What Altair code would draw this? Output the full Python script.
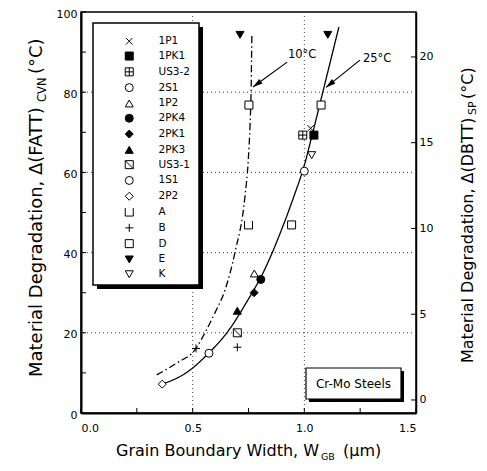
import altair as alt
import pandas as pd

FONT = "DejaVu Sans"

# ---- data ----
samples = ["1P1", "1PK1", "US3-2", "2S1", "1P2", "2PK4", "2PK1", "2PK3",
           "US3-1", "1S1", "2P2", "A", "B", "D", "E", "K"]
shape_paths = [
    "M-0.8,-0.8L0.8,0.8M-0.8,0.8L0.8,-0.8",          # 1P1  x
    "square",                                          # 1PK1
    "M-1,-1H1V1H-1ZM0,-1V1M-1,0H1",                    # US3-2
    "circle",                                          # 2S1
    "triangle-up",                                     # 1P2
    "circle",                                          # 2PK4
    "diamond",                                         # 2PK1
    "triangle-up",                                     # 2PK3
    "M-1,-1H1V1H-1ZM-1,-1L1,1",                        # US3-1
    "circle",                                          # 1S1
    "diamond",                                         # 2P2
    "M-1,-1V1H1V-1",                                   # A
    "M-1,0H1M0,-1V1",                                  # B
    "square",                                          # D
    "triangle-down",                                   # E
    "triangle-down",                                   # K
]
fill_colors = ["white", "black", "white", "white", "white", "black", "black", "black",
               "white", "white", "white", "white", "white", "white", "black", "white"]
stroke_colors = ["black"] * len(samples)

pt_sample = ["1P1", "1PK1", "US3-2", "2S1", "1P2", "2PK4", "2PK1", "2PK3", "US3-1",
             "1S1", "2P2", "A", "B", "B", "D", "D", "D", "E", "E", "K"]
pt_x = [1.028, 1.043, 0.993, 1.0, 0.776, 0.805, 0.775, 0.70, 0.70,
        0.573, 0.364, 0.75, 0.70, 0.515, 0.752, 1.075, 0.943, 0.712, 1.105, 1.033]
pt_y = [71.0, 69.3, 69.3, 60.3, 34.8, 33.3, 30.0, 25.5, 20.0,
        14.9, 7.2, 46.9, 16.4, 16.1, 76.8, 76.8, 46.9, 94.3, 94.3, 64.3]

curve25_x = [0.364, 0.47, 0.573, 0.66, 0.74, 0.82, 0.90, 0.95, 1.0, 1.035, 1.075, 1.115, 1.155]
curve25_y = [7.2, 10.0, 15.0, 20.5, 27.5, 35.5, 46.0, 53.5, 61.8, 69.3, 78.3, 87.3, 96.3]
curve10_x = [0.339, 0.43, 0.515, 0.555, 0.60, 0.645, 0.69, 0.734, 0.749, 0.757, 0.762, 0.765]
curve10_y = [9.5, 12.5, 16.1, 20.0, 25.0, 30.7, 40.2, 53.9, 63.1, 72.0, 81.4, 94.5]

arrow_id = ["10", "10", "25", "25"]
arrow_x = [0.923, 0.770, 1.249, 1.097]
arrow_y = [87.5, 81.3, 88.0, 81.2]
head_x = [0.770, 1.097]
head_y = [81.3, 81.2]
head_angle = [233.7, 231.3]
lab_text = ["10°C", "25°C"]
lab_x = [0.99, 1.326]
lab_y = [89.3, 88.3]

y_left_ticks = [0, 10, 20, 30, 40, 50, 60, 70, 80, 90, 100]
y_left_labels = [0, 20, 40, 60, 80, 100]
x_ticks = [0, 0.25, 0.5, 0.75, 1.0, 1.25, 1.5]
x_labels = [0, 0.5, 1.0, 1.5]
y_right_ticks = [0, 5, 10, 15, 20]
grid_y = [20, 40, 60, 80]
grid_x = [0.5, 1.0]

W, H = 335, 401
XS = alt.Scale(domain=[0, 1.5], nice=False, zero=False)
YS = alt.Scale(domain=[0, 100], nice=False, zero=False)
YR = alt.Scale(domain=[-0.76, 22.62], nice=False, zero=False)

LEFT_AXIS = alt.Axis(orient="left", values=y_left_labels, ticks=False, grid=False,
                     title=None, labelFont=FONT, labelFontSize=11, labelColor="black",
                     labelPadding=4, labelOffset=2, domainColor="black", domainWidth=2)
BOTTOM_AXIS = alt.Axis(orient="bottom", values=x_labels, format=".1f", ticks=False,
                       grid=False, title=None, labelFont=FONT, labelFontSize=11,
                       labelColor="black", labelPadding=9, domainColor="black",
                       domainWidth=2)
RIGHT_AXIS = alt.Axis(orient="right", values=y_right_ticks, ticks=False, grid=False,
                      title=None, labelFont=FONT, labelFontSize=11, labelColor="black",
                      labelPadding=3, domainColor="black", domainWidth=1.5)


def X(f):
    return alt.X(f, scale=XS, axis=BOTTOM_AXIS)


def Y(f):
    return alt.Y(f, scale=YS, axis=LEFT_AXIS)


pts = pd.DataFrame({"sample": pt_sample, "x": pt_x, "y": pt_y})
curves = pd.DataFrame({
    "c": ["25"] * len(curve25_x) + ["10"] * len(curve10_x),
    "x": curve25_x + curve10_x,
    "y": curve25_y + curve10_y,
    "o": list(range(len(curve25_x))) + list(range(len(curve10_x))),
})
arrows = pd.DataFrame({"id": arrow_id, "x": arrow_x, "y": arrow_y})
heads = pd.DataFrame({"x": head_x, "y": head_y, "a": head_angle})
labs = pd.DataFrame({"t": lab_text, "x": lab_x, "y": lab_y})

one = alt.Data(values=[{"a": 1}])

# grid
grid_h = alt.Chart(pd.DataFrame({"v": grid_y})).mark_rule(
    color="#444", strokeDash=[1, 3], strokeWidth=1
).encode(y=Y("v:Q"))
grid_v = alt.Chart(pd.DataFrame({"v": grid_x})).mark_rule(
    color="#444", strokeDash=[1, 3], strokeWidth=1
).encode(x=X("v:Q"))

left_ticks = alt.Chart(pd.DataFrame({"v": y_left_ticks})).mark_rule(
    color="black", strokeWidth=1
).encode(y=Y("v:Q"), x=alt.value(0), x2=alt.value(5))
bottom_ticks = alt.Chart(pd.DataFrame({"v": x_ticks})).mark_rule(
    color="black", strokeWidth=1
).encode(x=X("v:Q"), y=alt.value(H), y2=alt.value(H - 5))

curve_layer = alt.Chart(curves).mark_line(
    color="black", strokeWidth=1.3, interpolate="monotone"
).encode(
    x=X("x:Q"),
    y=Y("y:Q"),
    detail="c:N",
    order="o:Q",
    strokeDash=alt.StrokeDash("c:N", scale=alt.Scale(domain=["25", "10"],
                              range=[[1, 0], [7, 3, 1.5, 3]]), legend=None),
)

leg = dict(title=None, orient="none", legendX=43, legendY=24, symbolSize=64,
           symbolStrokeWidth=1, labelFont=FONT,
           labelFontSize=10.5, labelColor="black", rowPadding=2.8, labelOffset=24,
           padding=0)

point_layer = alt.Chart(pts).mark_point(
    filled=True, strokeWidth=1, size=64, opacity=1
).encode(
    x=X("x:Q"),
    y=Y("y:Q"),
    shape=alt.Shape("sample:N", scale=alt.Scale(domain=samples, range=shape_paths),
                    legend=alt.Legend(**leg)),
    fill=alt.Fill("sample:N", scale=alt.Scale(domain=samples, range=fill_colors),
                  legend=alt.Legend(**leg)),
    stroke=alt.Stroke("sample:N", scale=alt.Scale(domain=samples, range=stroke_colors),
                      legend=alt.Legend(**leg)),
)

arrow_lines = alt.Chart(arrows).mark_line(color="black", strokeWidth=1.2).encode(
    x=X("x:Q"),
    y=Y("y:Q"),
    detail="id:N",
)
arrow_heads = alt.Chart(heads).mark_point(
    shape="M0,0L-0.45,1.6L0.45,1.6Z", filled=True, color="black", size=150, opacity=1
).encode(
    x=X("x:Q"),
    y=Y("y:Q"),
    angle=alt.Angle("a:Q", scale=None),
)
arrow_labels = alt.Chart(labs).mark_text(
    font=FONT, fontSize=11.5, color="black", align="center", baseline="middle"
).encode(
    x=X("x:Q"),
    y=Y("y:Q"),
    text="t:N",
)


def box(x1, y1, x2, y2, fill, stroke=None, sw=0):
    kw = dict(fill=fill)
    if stroke:
        kw.update(stroke=stroke, strokeWidth=sw)
    else:
        kw.update(strokeWidth=0)
    return alt.Chart(one).mark_rect(**kw).encode(
        x=alt.value(x1), x2=alt.value(x2), y=alt.value(y1), y2=alt.value(y2))


def txt(s, x, y, size, angle=0, align="left", baseline="middle"):
    return alt.Chart(one).mark_text(
        text=s, font=FONT, fontSize=size, angle=angle, align=align,
        baseline=baseline, color="black"
    ).encode(x=alt.value(x), y=alt.value(y))


legend_shadow = box(16, 15, 122, 277, "black")
legend_box = box(12, 11, 118, 273, "white", "black", 1.5)
crmo_shadow = box(228, 359, 323, 390, "black")
crmo_box = box(225, 356, 320, 387, "white", "black", 1.2)
crmo_text = txt("Cr-Mo Steels", 272.5, 371.5, 12, align="center")

titles = [
    txt("Grain Boundary Width, W", 35, 439, 16),
    txt("GB", 240, 445, 9.5),
    txt("(\u03bcm)", 262, 439, 16),
    txt("Material Degradation, \u0394(FATT)", -44, 365, 18, angle=270),
    txt("CVN", -38, 90, 11.5, angle=270),
    txt("(°C)", -44, 62, 18, angle=270),
    txt("Material Degradation, \u0394(DBTT)", 387, 351, 16, angle=270),
    txt("SP", 392, 103, 11, angle=270),
    txt("(°C)", 387, 87, 16, angle=270),
]

main = alt.layer(
    grid_h, grid_v, left_ticks, bottom_ticks,
    legend_shadow, legend_box, crmo_shadow, crmo_box, crmo_text,
    curve_layer, arrow_lines, arrow_heads, arrow_labels, point_layer,
    *titles,
)

right = alt.Chart(pd.DataFrame({"v": y_right_ticks})).mark_rule(
    color="black", strokeWidth=1
).encode(y=alt.Y("v:Q", scale=YR, axis=RIGHT_AXIS), x=alt.value(W), x2=alt.value(W - 5))

chart = alt.layer(main, right).resolve_scale(y="independent").properties(
    width=W, height=H,
    padding={"left": 73, "top": 4, "right": 63, "bottom": 50},
    autosize=alt.AutoSizeParams(type="none"),
).configure_view(stroke="black", strokeWidth=1.5)

chart.save("out.html", embed_options={"renderer": "svg", "actions": False})
